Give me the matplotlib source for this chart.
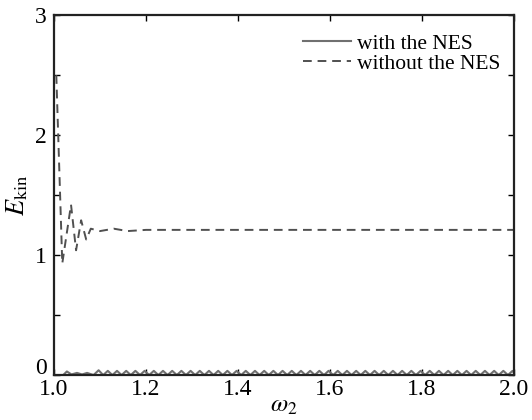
import matplotlib
matplotlib.use("Agg")
import matplotlib.pyplot as plt
from matplotlib.ticker import MultipleLocator

plt.rcParams['font.family'] = ['Liberation Serif', 'DejaVu Serif']
plt.rcParams['mathtext.fontset'] = 'stix'

# courbe sans le NES (tirets)
omega_sans = [1.005, 1.018, 1.037, 1.048, 1.059, 1.070, 1.080, 1.100, 1.130,
              1.160, 1.200, 1.300, 1.500, 1.700, 2.000]
e_sans = [2.50, 0.93, 1.42, 1.04, 1.29, 1.13, 1.22, 1.20, 1.22,
          1.20, 1.21, 1.21, 1.21, 1.21, 1.21]

# courbe avec le NES (trait plein, petite oscillation pres de zero)
omega_avec = [1.000, 1.012, 1.020, 1.028, 1.038, 1.050, 1.061, 1.072, 1.086,
              1.097, 1.107, 1.117, 1.127, 1.137, 1.147, 1.157, 1.167, 1.177, 1.187,
              1.197, 1.207, 1.217, 1.227, 1.237, 1.247, 1.257, 1.267, 1.277, 1.287,
              1.297, 1.307, 1.317, 1.327, 1.337, 1.347, 1.357, 1.367, 1.377, 1.387,
              1.397, 1.407, 1.417, 1.427, 1.437, 1.447, 1.457, 1.467, 1.477, 1.487,
              1.497, 1.507, 1.517, 1.527, 1.537, 1.547, 1.557, 1.567, 1.577, 1.587,
              1.597, 1.607, 1.617, 1.627, 1.637, 1.647, 1.657, 1.667, 1.677, 1.687,
              1.697, 1.707, 1.717, 1.727, 1.737, 1.747, 1.757, 1.767, 1.777, 1.787,
              1.797, 1.807, 1.817, 1.827, 1.837, 1.847, 1.857, 1.867, 1.877, 1.887,
              1.897, 1.907, 1.917, 1.927, 1.937, 1.947, 1.957, 1.967, 1.977, 1.987,
              1.997, 2.000]
e_avec = [0.0, 0.0, 0.0, 0.03, 0.005, 0.018, 0.005, 0.018, 0.0,
          0.04, 0.0, 0.035, 0.0, 0.035, 0.0, 0.035, 0.0, 0.035, 0.0,
          0.035, 0.0, 0.035, 0.0, 0.035, 0.0, 0.035, 0.0, 0.035, 0.0,
          0.035, 0.0, 0.035, 0.0, 0.035, 0.0, 0.035, 0.0, 0.035, 0.0,
          0.035, 0.0, 0.035, 0.0, 0.035, 0.0, 0.035, 0.0, 0.035, 0.0,
          0.035, 0.0, 0.035, 0.0, 0.035, 0.0, 0.035, 0.0, 0.035, 0.0,
          0.035, 0.0, 0.035, 0.0, 0.035, 0.0, 0.035, 0.0, 0.035, 0.0,
          0.035, 0.0, 0.035, 0.0, 0.035, 0.0, 0.035, 0.0, 0.035, 0.0,
          0.035, 0.0, 0.035, 0.0, 0.035, 0.0, 0.035, 0.0, 0.035, 0.0,
          0.035, 0.0, 0.035, 0.0, 0.035, 0.0, 0.035, 0.0, 0.035, 0.0,
          0.035, 0.02]

y_ticks = [0, 1, 2, 3]
y_labels = ['', '1', '2', '3']   # le "0" est place a part, un peu plus haut
x_ticks = [1.0, 1.2, 1.4, 1.6, 1.8, 2.0]
x_labels = ['1.0', '1.2', '1.4', '1.6', '1.8', '2.0']

fig = plt.figure(figsize=(5.32, 4.20), dpi=100)
ax = fig.add_axes([0.1015, 0.107, 0.8645, 0.857])

ax.plot(omega_avec, e_avec, color='#707070', lw=1.5, label='with the NES')
ax.plot(omega_sans, e_sans, color='#505050', lw=1.4, dashes=(4.5, 3),
        label='without the NES')

ax.set_xlim(1.0, 2.0)
ax.set_ylim(0, 3)
ax.set_xticks(x_ticks)
ax.set_xticklabels(x_labels)
ax.set_yticks(y_ticks)
ax.set_yticklabels(y_labels)
ax.yaxis.set_minor_locator(MultipleLocator(0.5))
ax.tick_params(which='both', direction='in', top=True, right=True,
               labelsize=17, length=4, width=1, pad=3)
ax.tick_params(axis='y', pad=5)
for s in ax.spines.values():
    s.set_linewidth(1.6)
    s.set_color('#222222')

ax.annotate('0', xy=(0, 0), xycoords='axes fraction', xytext=(-5, 5),
            textcoords='offset points', ha='right', va='center', fontsize=17)

ax.set_xlabel(r'$\omega_2$', fontsize=18, labelpad=-4)
ax.set_ylabel(r'$E_{\rm kin}$', fontsize=19, labelpad=4)

ax.legend(loc='upper right', bbox_to_anchor=(1.0, 0.986), frameon=False,
          fontsize=15.5, handlelength=2.2, handletextpad=0.3,
          labelspacing=0.0, borderaxespad=0.22)

fig.savefig('out.png', dpi=100)
